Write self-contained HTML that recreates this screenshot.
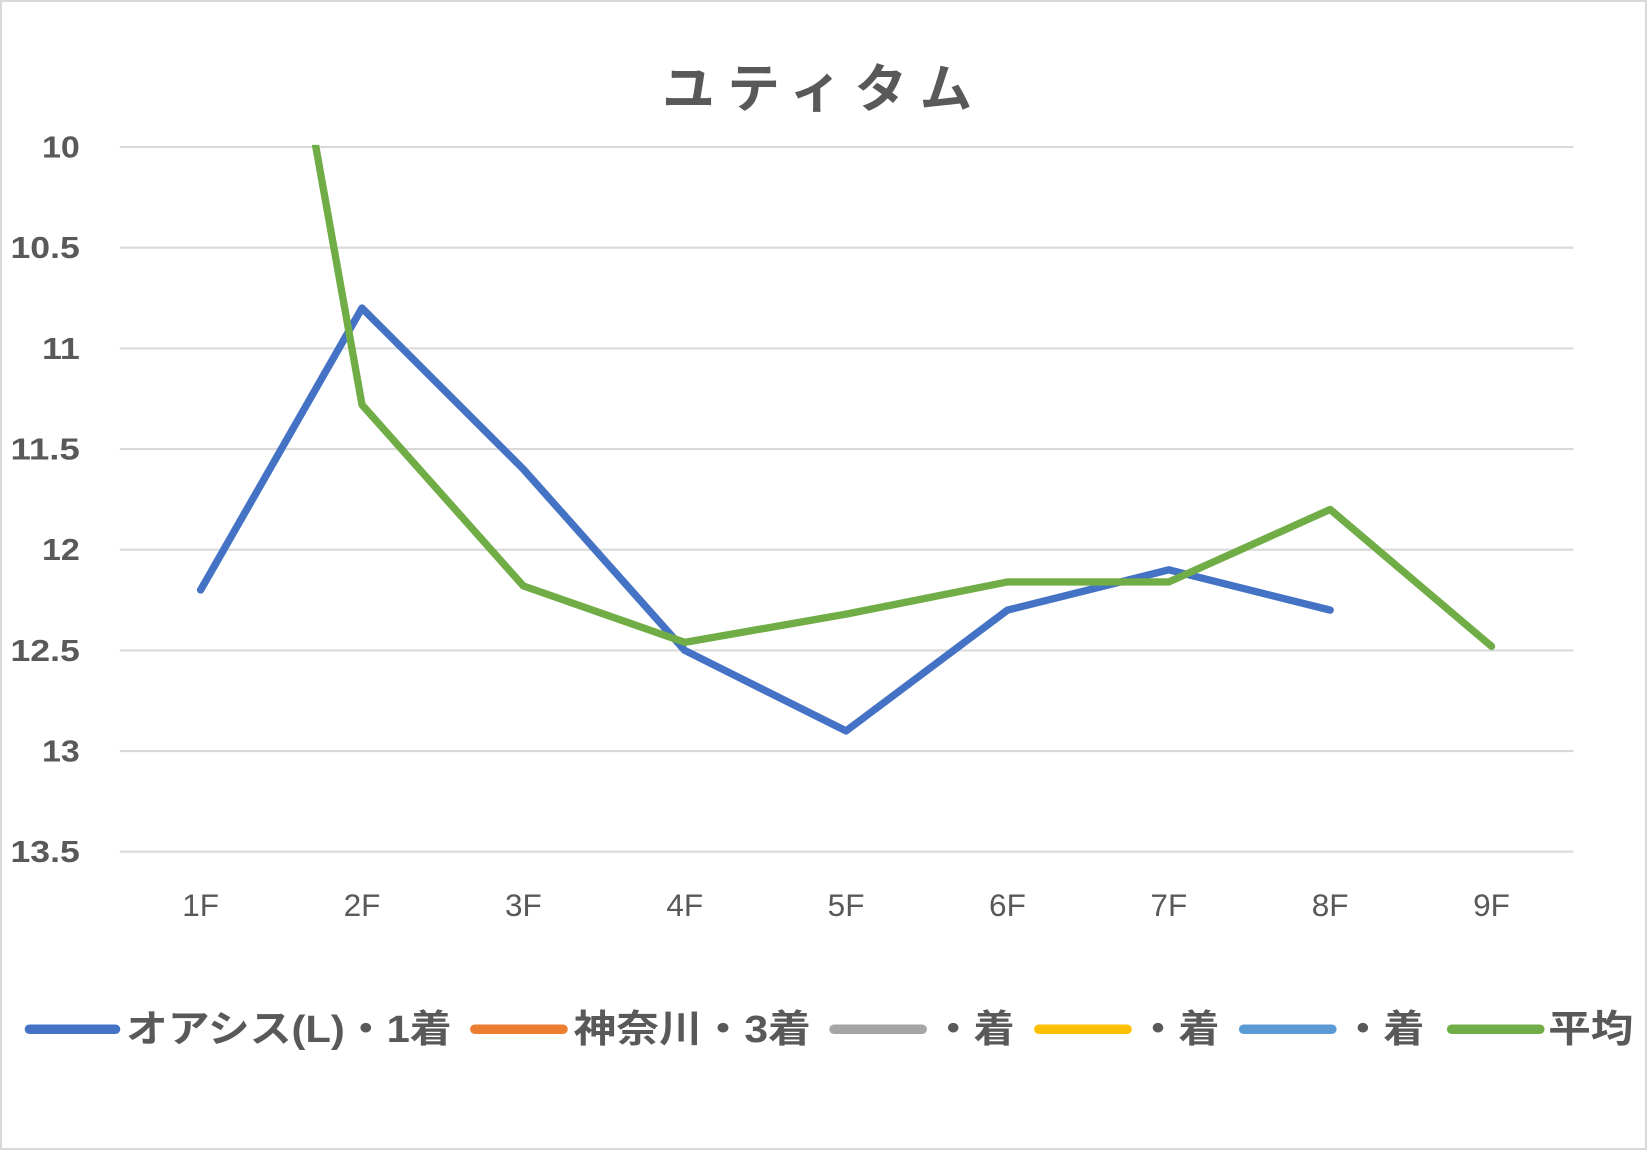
<!DOCTYPE html>
<html><head><meta charset="utf-8"><style>
html,body{margin:0;padding:0;background:#fff;}
svg{display:block;}
text{font-family:"Liberation Sans","Noto Sans CJK JP",sans-serif;fill:#595959;}
</style></head><body>
<svg id="chart" width="1647" height="1150" viewBox="0 0 1568 1095" preserveAspectRatio="none" xmlns="http://www.w3.org/2000/svg">
<rect x="1" y="1" width="1566" height="1093" fill="#fff" stroke="#d9d9d9" stroke-width="2"/>
<text x="784" y="102" text-anchor="middle" font-size="50" font-weight="bold" letter-spacing="12">ユティタム</text>
<g id="grid"></g>
<g id="ylabels"></g>
<g id="xlabels"></g>
<defs><clipPath id="plotclip"><rect x="100" y="138" width="1420" height="700"/></clipPath></defs>
<g id="series" clip-path="url(#plotclip)"></g>
<g font-size="36" font-weight="bold">
 <g><line x1="28" y1="980" x2="110" y2="980" stroke="#4472c4" stroke-width="9" stroke-linecap="round"/><text x="120" y="992" textLength="310" lengthAdjust="spacingAndGlyphs">オアシス(L)・1着</text></g>
 <g><line x1="452" y1="980" x2="536" y2="980" stroke="#ed7d31" stroke-width="9" stroke-linecap="round"/><text x="546" y="992" textLength="226" lengthAdjust="spacingAndGlyphs">神奈川・3着</text></g>
 <g><line x1="794" y1="980" x2="878" y2="980" stroke="#a5a5a5" stroke-width="9" stroke-linecap="round"/><text x="888" y="992" textLength="78" lengthAdjust="spacingAndGlyphs">・着</text></g>
 <g><line x1="989" y1="980" x2="1073" y2="980" stroke="#ffc000" stroke-width="9" stroke-linecap="round"/><text x="1083" y="992" textLength="78" lengthAdjust="spacingAndGlyphs">・着</text></g>
 <g><line x1="1184" y1="980" x2="1268" y2="980" stroke="#5b9bd5" stroke-width="9" stroke-linecap="round"/><text x="1278" y="992" textLength="78" lengthAdjust="spacingAndGlyphs">・着</text></g>
 <g><line x1="1382" y1="980" x2="1466" y2="980" stroke="#70ad47" stroke-width="9" stroke-linecap="round"/><text x="1474" y="992" textLength="81" lengthAdjust="spacingAndGlyphs">平均</text></g>
</g>
</svg>
<script>
const categories = ["1F","2F","3F","4F","5F","6F","7F","8F","9F"];
const yTicks = [10,10.5,11,11.5,12,12.5,13,13.5];
const yTickLabels = ["10","10.5","11","11.5","12","12.5","13","13.5"];
const oasisValues = [12.2,10.8,11.6,12.5,12.9,12.3,12.1,12.3,null];
const averageValues = [6.8,11.28,12.18,12.46,12.32,12.16,12.16,11.8,12.48];

const NS="http://www.w3.org/2000/svg";
const yMin=10,yMax=13.5,yTop=140,yBot=811;
const x0=191,x1=1420;
function xScale(i){return x0+(x1-x0)*i/(categories.length-1);}
function yScale(v){return yTop+(v-yMin)/(yMax-yMin)*(yBot-yTop);}

const grid=document.getElementById('grid');
const yl=document.getElementById('ylabels');
yTicks.forEach((t,i)=>{
  const l=document.createElementNS(NS,'line');
  
  
  l.setAttribute('x1',114);l.setAttribute('x2',1498);
  l.setAttribute('y1',yScale(t));l.setAttribute('y2',yScale(t));
  l.setAttribute('stroke','#d9d9d9');l.setAttribute('stroke-width',2);
  grid.appendChild(l);
  const tx=document.createElementNS(NS,'text');
  
  
  tx.setAttribute('x',76);tx.setAttribute('y',yScale(t)+10);
  tx.setAttribute('text-anchor','end');tx.setAttribute('font-size','29');tx.setAttribute('font-weight','bold');
  tx.setAttribute('textLength', yTickLabels[i].length>2 ? 66 : 36);
  tx.setAttribute('lengthAdjust','spacingAndGlyphs');
  tx.textContent=yTickLabels[i];
  yl.appendChild(tx);
});
const xl=document.getElementById('xlabels');
categories.forEach((c,i)=>{
  const tx=document.createElementNS(NS,'text');
  
  
  tx.setAttribute('x',xScale(i));tx.setAttribute('y',872);
  tx.setAttribute('text-anchor','middle');tx.setAttribute('font-size','30');
  tx.textContent=c;
  xl.appendChild(tx);
});
const series=document.getElementById('series');
function drawLine(vals,color,name){
  const pts=[];
  vals.forEach((v,i)=>{if(v!==null)pts.push(xScale(i)+','+yScale(v));});
  const p=document.createElementNS(NS,'polyline');
  
  
  p.setAttribute('points',pts.join(' '));
  p.setAttribute('fill','none');p.setAttribute('stroke',color);
  p.setAttribute('stroke-width',7);p.setAttribute('stroke-linecap','round');p.setAttribute('stroke-linejoin','round');
  series.appendChild(p);
}
drawLine(oasisValues,'#4472c4','oasis-line');
drawLine(averageValues,'#70ad47','average-line');
</script>
</body></html>
